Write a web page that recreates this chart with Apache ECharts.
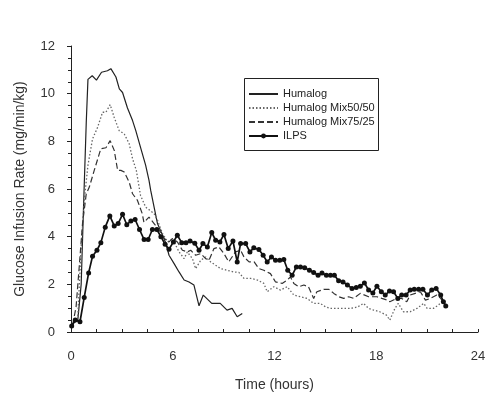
<!DOCTYPE html>
<html>
<head>
<meta charset="utf-8">
<script src="https://cdn.jsdelivr.net/npm/echarts@6/dist/echarts.min.js"></script>
<style>
  html, body { margin: 0; padding: 0; background: #fff; }
  #chart { width: 500px; height: 398px; }
</style>
</head>
<body>
<div id="chart"></div>
<script>
// [hours, mg/min/kg]
const humalog = [
  [0.1, 0.35], [0.4, 0.5], [0.6, 2.0], [0.75, 5.5], [0.9, 8.8], [1.0, 10.6], [1.25, 10.75],
  [1.5, 10.57], [1.8, 10.9], [2.15, 10.96], [2.35, 11.05], [2.65, 10.7], [2.85, 10.2],
  [3.04, 10.05], [3.33, 9.4], [3.63, 8.87], [3.82, 8.45], [4.1, 7.75], [4.4, 7.0], [4.6, 6.36],
  [4.7, 5.94], [4.9, 5.24], [5.1, 4.55], [5.4, 4.06], [5.6, 3.71], [5.78, 3.22], [6.08, 2.87],
  [6.37, 2.52], [6.67, 2.18], [6.96, 2.1], [7.25, 1.97], [7.55, 1.1], [7.8, 1.55], [8.3, 1.2],
  [8.8, 1.2], [9.2, 0.92], [9.5, 0.99], [9.8, 0.64], [10.1, 0.78]
];
const mix5050 = [
  [0.1, 0.3], [0.4, 0.6], [0.6, 3.57], [0.8, 5.66], [1.0, 7.0], [1.27, 8.1], [1.57, 8.59],
  [1.86, 9.22], [2.06, 9.22], [2.31, 9.54], [2.55, 9.0], [2.84, 8.45], [3.14, 8.31], [3.43, 7.9],
  [3.63, 7.27], [3.85, 6.78], [4.1, 5.73], [4.4, 5.24], [4.9, 4.97], [5.1, 4.69], [5.4, 4.13],
  [5.7, 3.78], [5.98, 3.92], [6.37, 3.36], [6.67, 3.08], [6.86, 3.36], [7.16, 3.08], [7.35, 2.66],
  [7.65, 3.01], [7.94, 3.15], [8.24, 2.94], [8.53, 2.8], [8.82, 2.66], [9.2, 2.59], [9.6, 2.52],
  [9.9, 2.5], [10.2, 2.25], [10.6, 2.25], [11.0, 2.18], [11.37, 2.04], [11.57, 1.69], [11.96, 1.9],
  [12.35, 1.76], [12.75, 1.9], [13.14, 1.55], [13.53, 1.48], [13.92, 1.41], [14.31, 1.2],
  [14.7, 1.2], [15.0, 1.06], [15.3, 0.99], [15.7, 0.99], [16.1, 0.99], [16.5, 0.99], [16.9, 1.05],
  [17.25, 1.2], [17.55, 0.99], [17.84, 0.92], [18.2, 0.85], [18.6, 0.71], [18.8, 0.5], [19.1, 0.99],
  [19.3, 1.2], [19.6, 0.85], [20.0, 0.85], [20.4, 0.99], [20.8, 1.2], [21.0, 0.99], [21.37, 0.99],
  [21.67, 1.13], [21.86, 1.27]
];
const mix7525 = [
  [0.1, 0.3], [0.3, 1.06], [0.5, 2.87], [0.68, 4.55], [0.9, 5.8], [1.08, 6.08], [1.37, 6.78],
  [1.76, 7.69], [2.06, 7.73], [2.31, 8.03], [2.55, 7.62], [2.75, 6.78], [2.94, 6.78], [3.14, 6.71],
  [3.43, 6.29], [3.63, 5.8], [3.92, 5.52], [4.2, 4.97], [4.3, 4.6], [4.6, 4.82], [4.9, 4.55],
  [5.2, 4.27], [5.5, 3.92], [5.78, 3.78], [5.98, 3.92], [6.27, 3.78], [6.57, 3.43], [6.86, 3.36],
  [7.06, 3.43], [7.35, 3.22], [7.65, 3.29], [7.94, 3.08], [8.14, 3.01], [8.43, 3.5], [8.72, 3.57],
  [9.02, 3.29], [9.3, 2.94], [9.7, 3.36], [10.0, 3.43], [10.2, 3.15], [10.5, 2.94], [10.8, 2.94],
  [11.08, 2.66], [11.37, 2.59], [11.76, 2.45], [12.06, 2.1], [12.45, 2.04], [12.75, 2.18],
  [12.94, 2.31], [13.14, 2.04], [13.43, 1.9], [13.73, 1.97], [14.0, 1.9], [14.31, 1.41], [14.5, 1.69],
  [14.9, 1.79], [15.2, 1.79], [15.5, 1.62], [15.78, 1.48], [16.08, 1.41], [16.37, 1.48],
  [16.67, 1.41], [17.06, 1.62], [17.55, 1.48], [18.04, 1.48], [18.33, 1.41], [18.63, 1.34],
  [18.8, 1.27], [19.2, 1.41], [19.5, 1.41], [19.8, 1.27], [20.0, 1.55], [20.3, 1.62], [20.6, 1.69],
  [20.9, 1.34], [21.2, 1.41], [21.57, 1.55], [21.8, 1.41], [22.0, 1.2]
];
const ilps = [
  [0.04, 0.25], [0.25, 0.5], [0.53, 0.43], [0.78, 1.45], [1.04, 2.48], [1.27, 3.18], [1.53, 3.43],
  [1.76, 3.75], [2.02, 4.4], [2.29, 4.87], [2.55, 4.45], [2.78, 4.55], [3.04, 4.94], [3.29, 4.5],
  [3.53, 4.66], [3.78, 4.72], [4.04, 4.3], [4.31, 3.88], [4.55, 3.88], [4.8, 4.3], [5.06, 4.3],
  [5.3, 4.0], [5.55, 3.68], [5.78, 3.47], [6.04, 3.78], [6.27, 4.06], [6.53, 3.75], [6.78, 3.75],
  [7.02, 3.82], [7.3, 3.72], [7.55, 3.43], [7.78, 3.71], [8.04, 3.57], [8.3, 4.17], [8.53, 3.85],
  [8.78, 3.78], [9.02, 4.09], [9.27, 3.5], [9.55, 3.82], [9.8, 2.94], [10.0, 3.71], [10.3, 3.71],
  [10.55, 3.36], [10.78, 3.53], [11.08, 3.46], [11.33, 3.22], [11.57, 2.94], [11.82, 3.15],
  [12.06, 3.01], [12.31, 3.01], [12.55, 3.04], [12.78, 2.59], [13.04, 2.38], [13.29, 2.73],
  [13.53, 2.73], [13.78, 2.7], [14.06, 2.59], [14.31, 2.5], [14.57, 2.38], [14.8, 2.48],
  [15.06, 2.38], [15.3, 2.38], [15.53, 2.38], [15.78, 2.15], [16.04, 2.1], [16.3, 1.97],
  [16.57, 1.83], [16.82, 1.87], [17.06, 1.92], [17.3, 2.06], [17.55, 1.76], [17.8, 1.64],
  [18.04, 1.92], [18.3, 1.69], [18.53, 1.55], [18.78, 1.72], [19.02, 1.69], [19.27, 1.41],
  [19.5, 1.55], [19.76, 1.55], [20.0, 1.76], [20.24, 1.79], [20.5, 1.79], [20.75, 1.79],
  [21.02, 1.55], [21.27, 1.76], [21.53, 1.83], [21.8, 1.55], [21.96, 1.27], [22.1, 1.09]
];
const seriesNames = ['Humalog', 'Humalog Mix50/50', 'Humalog Mix75/25', 'ILPS'];

const font = 'Liberation Sans, Arial, sans-serif';

const chart = echarts.init(document.getElementById('chart'));

chart.setOption({
  animation: false,
  backgroundColor: '#fff',
  textStyle: { fontFamily: font },
  grid: { left: 71, right: 22, top: 46, bottom: 66 },
  graphic: [{
    type: 'rect',
    shape: { x: 244.5, y: 78.5, width: 134, height: 72 },
    style: { fill: 'none', stroke: '#222', lineWidth: 1 },
    z: 10
  }],
  legend: {
    orient: 'vertical',
    left: 248,
    top: 88,
    padding: 0,
    itemWidth: 29,
    itemHeight: 6,
    itemGap: 2,
    textStyle: { fontFamily: font, fontSize: 11, color: '#222', lineHeight: 12 },
    data: [
      { name: seriesNames[0], itemStyle: { opacity: 0 } },
      { name: seriesNames[1], itemStyle: { opacity: 0 } },
      { name: seriesNames[2], itemStyle: { opacity: 0 } },
      { name: seriesNames[3] }
    ]
  },
  xAxis: {
    type: 'value',
    min: 0,
    max: 24,
    interval: 6,
    offset: 6,
    name: 'Time (hours)',
    nameLocation: 'middle',
    nameGap: 40,
    nameTextStyle: { fontSize: 14, color: '#333' },
    axisLine: { lineStyle: { color: '#222', width: 1 } },
    axisTick: { inside: true, length: 3, lineStyle: { color: '#222' } },
    minorTick: { show: true, splitNumber: 4, length: 3, lineStyle: { color: '#222' } },
    axisLabel: { fontSize: 13, color: '#333', margin: 12 },
    splitLine: { show: false }
  },
  yAxis: {
    type: 'value',
    min: 0,
    max: 12,
    interval: 2,
    offset: 8,
    name: 'Glucose Infusion Rate (mg/min/kg)',
    nameLocation: 'middle',
    nameGap: 36,
    nameTextStyle: { fontSize: 14, color: '#333' },
    axisLine: { show: true, lineStyle: { color: '#222', width: 1 } },
    axisTick: { show: true, length: 4, lineStyle: { color: '#222' } },
    minorTick: { show: true, splitNumber: 4, length: 3, lineStyle: { color: '#222' } },
    axisLabel: { fontSize: 13, color: '#333', margin: 8 },
    splitLine: { show: false }
  },
  series: [
    {
      name: seriesNames[0],
      type: 'line',
      data: humalog,
      symbol: 'none',
      lineStyle: { color: '#222', width: 1.2 },
      itemStyle: { color: '#222' }
    },
    {
      name: seriesNames[1],
      type: 'line',
      data: mix5050,
      symbol: 'none',
      lineStyle: { color: '#666', width: 1.3, type: [1.5, 2] },
      itemStyle: { color: '#666' }
    },
    {
      name: seriesNames[2],
      type: 'line',
      data: mix7525,
      symbol: 'none',
      lineStyle: { color: '#333', width: 1.2, type: [6, 3] },
      itemStyle: { color: '#333' }
    },
    {
      name: seriesNames[3],
      type: 'line',
      data: ilps,
      symbol: 'circle',
      symbolSize: 5,
      lineStyle: { color: '#111', width: 1.7 },
      itemStyle: { color: '#111' }
    }
  ]
});
</script>
</body>
</html>
